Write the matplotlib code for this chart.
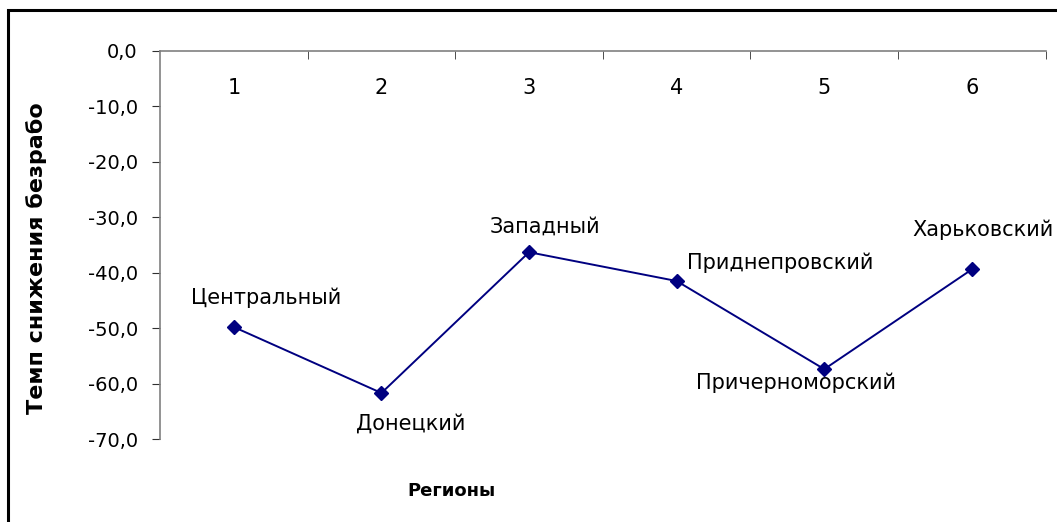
import matplotlib.pyplot as plt
from matplotlib.patches import Rectangle
from matplotlib.ticker import FuncFormatter, FixedLocator

plt.rcParams['font.family'] = ['DejaVu Sans']
plt.rcParams['axes.unicode_minus'] = False

# данные по регионам
region_num = [1, 2, 3, 4, 5, 6]
region_names = ['Центральный', 'Донецкий', 'Западный', 'Приднепровский',
                'Причерноморский', 'Харьковский']
rate = [-49.8, -61.7, -36.3, -41.5, -57.4, -39.4]

# смещения подписей в пикселях
label_offsets = [(32, 29), (29, -31), (16, 26), (104, 18), (-28, -14), (11, 40)]


def main():
    fig = plt.figure(figsize=(10.57, 5.22), dpi=100)
    ax = fig.add_axes([0.1514, 0.159, 0.8379, 0.7433])

    ax.plot(region_num, rate, color='#000080', lw=1.4, marker='D', ms=7)

    for x, y, name, off in zip(region_num, rate, region_names, label_offsets):
        ax.annotate(name, (x, y), xytext=off, textcoords='offset pixels',
                    ha='center', va='center', fontsize=15)

    ax.set_xlim(0.5, 6.5)
    ax.set_ylim(-70, 0)

    # ось категорий сверху (на нуле)
    for side in ['right', 'bottom']:
        ax.spines[side].set_visible(False)
    for side in ['left', 'top']:
        ax.spines[side].set_color('#808080')
        ax.spines[side].set_linewidth(1.2)

    ax.set_xticks(region_num)
    ax.xaxis.set_minor_locator(FixedLocator([1.5, 2.5, 3.5, 4.5, 5.5, 6.5]))
    ax.tick_params(axis='x', which='both', bottom=False, labelbottom=False,
                   top=True, labeltop=True)
    ax.tick_params(axis='x', which='major', length=0, pad=-34, labelsize=15)
    ax.tick_params(axis='x', which='minor', direction='in', length=6,
                   color='#303030')

    ax.set_yticks(range(-70, 1, 10))
    ax.yaxis.set_major_formatter(FuncFormatter(lambda v, p: f'{v:.1f}'.replace('.', ',')))
    ax.tick_params(axis='y', length=6, pad=10, labelsize=14, color='#303030')

    ax.set_ylabel('Темп снижения безрабо', fontsize=16, fontweight='bold')
    ax.yaxis.set_label_coords(-0.1276, 0.4665)
    ax.set_xlabel('Регионы', fontsize=13, fontweight='bold')
    ax.xaxis.set_label_coords(0.3286, -0.111)

    # рамка диаграммы
    fig.patches.append(Rectangle((7.5 / 1057, -0.1), 1.0, 1.1 - 10 / 522,
                                 transform=fig.transFigure, fill=False,
                                 lw=2.2, ec='black'))

    fig.savefig('out.png', dpi=100)


if __name__ == '__main__':
    main()
